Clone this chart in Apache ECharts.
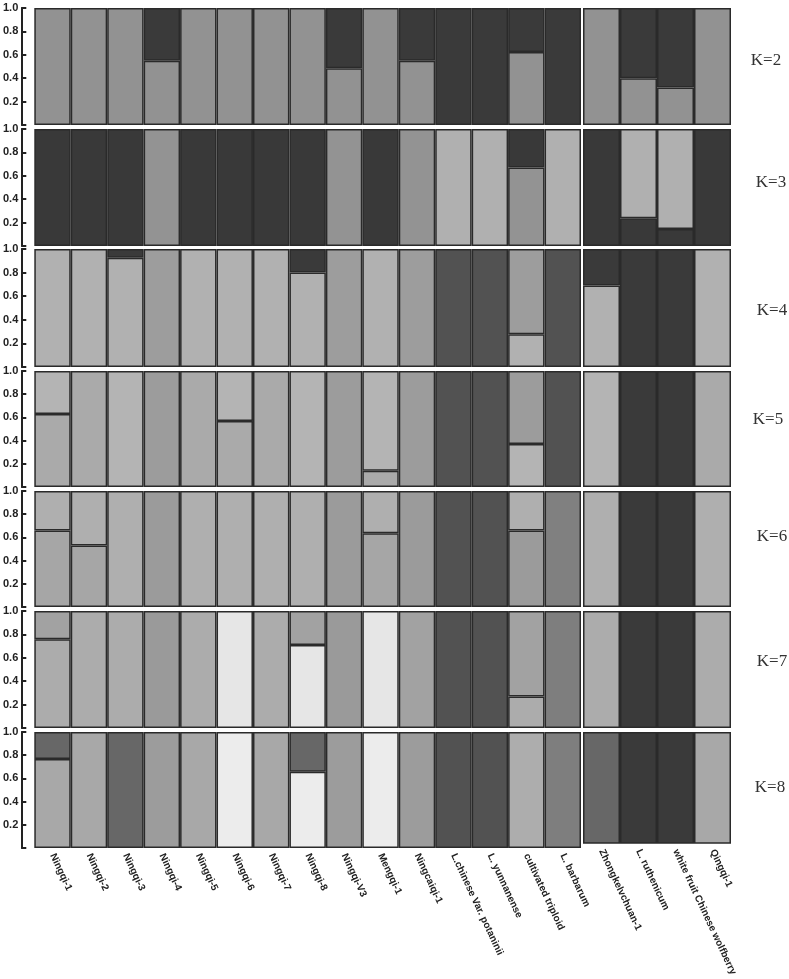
<!DOCTYPE html>
<html>
<head>
<meta charset="utf-8">
<script src="https://cdn.jsdelivr.net/npm/echarts@6/dist/echarts.min.js"></script>
<style>
html,body{margin:0;padding:0;background:#fff;}
#chart{width:789px;height:979px;}
</style>
</head>
<body>
<div id="chart"></div>
<script>
// ---------- data ----------
const categories = ['Ningqi-1','Ningqi-2','Ningqi-3','Ningqi-4','Ningqi-5','Ningqi-6','Ningqi-7','Ningqi-8','Ningqi-V3','Mengqi-1','Ningcaiqi-1','L.chinese Var. potaninii','L. yunnanense','cultivated triploid','L. barbarum','Zhongkelvchuan-1','L. ruthenicum','white fruit Chinese wolfberry','Qingqi-1'];
const leftGroupSize = 15;
const yTicks = [0, 0.2, 0.4, 0.6, 0.8, 1.0];
const panelLabels = ['K=2','K=3','K=4','K=5','K=6','K=7','K=8'];

// K=2
const k2_a = [1,1,1,0.55,1,1,1,1,0.485,1,0.55,0,0,0.625,0,1,0.40,0.32,1];
const k2_b = [0,0,0,0.45,0,0,0,0,0.515,0,0.45,1,1,0.375,1,0,0.60,0.68,0];
// K=3
const k3_a = [0,0,0,1,0,0,0,0,1,0,1,0,0,0.67,0,0,0,0,0];
const k3_b = [1,1,1,0,1,1,1,1,0,1,0,0,0,0.33,0,1,0.237,0.145,1];
const k3_c = [0,0,0,0,0,0,0,0,0,0,0,1,1,0,1,0,0.763,0.855,0];
// K=4
const k4_a = [1,1,0.926,0,1,1,1,0.80,0,1,0,0,0,0.277,0,0.69,0,0,1];
const k4_b = [0,0,0,1,0,0,0,0,1,0,1,0,0,0.723,0,0,0,0,0];
const k4_c = [0,0,0,0,0,0,0,0,0,0,0,1,1,0,1,0,0,0,0];
const k4_d = [0,0,0.074,0,0,0,0,0.20,0,0,0,0,0,0,0,0.31,1,1,0];
// K=5
const k5_a = [0.63,1,0,0,1,0.57,1,0,0,0.14,0,0,0,0,0,0,0,0,1];
const k5_b = [0.37,0,1,0,0,0.43,0,1,0,0.86,0,0,0,0.37,0,1,0,0,0];
const k5_c = [0,0,0,1,0,0,0,0,1,0,1,0,0,0.63,0,0,0,0,0];
const k5_d = [0,0,0,0,0,0,0,0,0,0,0,1,1,0,1,0,0,0,0];
const k5_e = [0,0,0,0,0,0,0,0,0,0,0,0,0,0,0,0,1,1,0];
// K=6
const k6_a = [0.66,0.53,0,0,0,0,0,0,0,0.635,0,0,0,0,0,0,0,0,0];
const k6_b = [0,0,0,1,0,0,0,0,1,0,1,0,0,0.66,0,0,0,0,0];
const k6_c = [0.34,0.47,1,0,1,1,1,1,0,0.365,0,0,0,0.34,0,1,0,0,1];
const k6_d = [0,0,0,0,0,0,0,0,0,0,0,1,1,0,0,0,0,0,0];
const k6_e = [0,0,0,0,0,0,0,0,0,0,0,0,0,0,1,0,0,0,0];
const k6_f = [0,0,0,0,0,0,0,0,0,0,0,0,0,0,0,0,1,1,0];
// K=7
const k7_a = [0.758,1,1,0,1,0,1,0,0,0,0,0,0,0.27,0,1,0,0,1];
const k7_b = [0,0,0,0,0,1,0,0.71,0,1,0,0,0,0,0,0,0,0,0];
const k7_c = [0,0,0,1,0,0,0,0,1,0,0,0,0,0,0,0,0,0,0];
const k7_d = [0.242,0,0,0,0,0,0,0.29,0,0,1,0,0,0.73,0,0,0,0,0];
const k7_e = [0,0,0,0,0,0,0,0,0,0,0,1,1,0,0,0,0,0,0];
const k7_f = [0,0,0,0,0,0,0,0,0,0,0,0,0,0,1,0,0,0,0];
const k7_g = [0,0,0,0,0,0,0,0,0,0,0,0,0,0,0,0,1,1,0];
// K=8
const k8_a = [0.767,1,0,0,1,0,1,0,0,0,0,0,0,0,0,0,0,0,1];
const k8_b = [0,0,0,0,0,1,0,0.658,0,1,0,0,0,0,0,0,0,0,0];
const k8_c = [0.233,0,1,0,0,0,0,0.342,0,0,0,0,0,0,0,1,0,0,0];
const k8_d = [0,0,0,1,0,0,0,0,1,0,1,0,0,0,0,0,0,0,0];
const k8_e = [0,0,0,0,0,0,0,0,0,0,0,1,1,0,0,0,0,0,0];
const k8_f = [0,0,0,0,0,0,0,0,0,0,0,0,0,1,0,0,0,0,0];
const k8_g = [0,0,0,0,0,0,0,0,0,0,0,0,0,0,1,0,0,0,0];
const k8_h = [0,0,0,0,0,0,0,0,0,0,0,0,0,0,0,0,1,1,0];

// ---------- styles / layout ----------
const panelSeries = [
  [k2_a,k2_b],
  [k3_a,k3_b,k3_c],
  [k4_a,k4_b,k4_c,k4_d],
  [k5_a,k5_b,k5_c,k5_d,k5_e],
  [k6_a,k6_b,k6_c,k6_d,k6_e,k6_f],
  [k7_a,k7_b,k7_c,k7_d,k7_e,k7_f,k7_g],
  [k8_a,k8_b,k8_c,k8_d,k8_e,k8_f,k8_g,k8_h]
];
const panelColors = [
  ['#929292','#3a3a3a'],
  ['#939393','#393939','#b0b0b0'],
  ['#b1b1b1','#9d9d9d','#525252','#3a3a3a'],
  ['#aaaaaa','#b4b4b4','#9c9c9c','#525252','#3a3a3a'],
  ['#a6a6a6','#9b9b9b','#afafaf','#525252','#808080','#3a3a3a'],
  ['#acacac','#e6e6e6','#9a9a9a','#a2a2a2','#525252','#7e7e7e','#3a3a3a'],
  ['#a8a8a8','#ececec','#676767','#9c9c9c','#525252','#adadad','#7e7e7e','#3a3a3a']
];
const panelTops = [8,129,249,371,491,611,732];
const panelHeights = [117,117,118,116,116,117,116];
const kLabelPos = [[766,61],[771,183],[772,311],[768,420],[772,537],[772,662],[770,788]];

const leftX = 34, leftW = 547, rightX = 583, rightW = 148;
const leftCats = categories.slice(0, leftGroupSize);
const rightCats = categories.slice(leftGroupSize);

const grid = [], xAxis = [], yAxis = [], series = [], graphic = [];
const isLast = p => p === panelTops.length - 1;
const xLabel = {
  interval: 0, rotate: -65, fontSize: 10, fontWeight: 'bold',
  fontFamily: 'Liberation Sans, Arial, sans-serif', color: '#222', margin: 6
};

panelTops.forEach((top, p) => {
  const h = panelHeights[p];
  [[leftX, leftW, leftCats, 0], [rightX, rightW, rightCats, leftGroupSize]].forEach(([gx, gw, cats, off], side) => {
    const gi = grid.length;
    grid.push({left: gx, top: top, width: gw, height: h, containLabel: false});
    xAxis.push({
      type: 'category', gridIndex: gi, data: cats,
      axisLine: {show: false}, axisTick: {show: false},
      axisLabel: isLast(p) ? xLabel : {show: false}
    });
    if (side === 0) {
      yAxis.push({
        type: 'value', gridIndex: gi, min: yTicks[0], max: yTicks[yTicks.length-1], interval: yTicks[1]-yTicks[0],
        offset: 13,
        axisLine: {show: true, lineStyle: {color: '#222', width: 2}},
        axisTick: {show: true, inside: true, length: 5, lineStyle: {color: '#222', width: 2}},
        axisLabel: {
          margin: 3, fontSize: 11, fontWeight: 'bold', color: '#222',
          fontFamily: 'Liberation Sans, Arial, sans-serif',
          formatter: v => (v === 0 ? '' : v.toFixed(1))
        },
        splitLine: {show: false}
      });
    } else {
      yAxis.push({type: 'value', gridIndex: gi, min: 0, max: 1, show: false, splitLine: {show: false}});
    }
    panelSeries[p].forEach((arr, c) => {
      series.push({
        type: 'bar', xAxisIndex: gi, yAxisIndex: gi,
        stack: 'g' + gi, barCategoryGap: '0%', barGap: '0%',
        data: arr.slice(off, off + cats.length).map(v => (v > 0 ? v : '-')),
        itemStyle: {color: panelColors[p][c], borderColor: '#2a2a2a', borderWidth: 1.5},
        emphasis: {disabled: true}, silent: true
      });
    });
  });
  graphic.push({
    type: 'text', x: kLabelPos[p][0], y: kLabelPos[p][1],
    style: {text: panelLabels[p], font: '17px "Liberation Serif", "DejaVu Serif", serif', fill: '#333',
            textAlign: 'center', textVerticalAlign: 'middle'}
  });
});

const chart = echarts.init(document.getElementById('chart'), null, {renderer: 'canvas'});
chart.setOption({
  backgroundColor: '#ffffff',
  animation: false,
  grid, xAxis, yAxis, series, graphic
});
</script>
</body>
</html>
